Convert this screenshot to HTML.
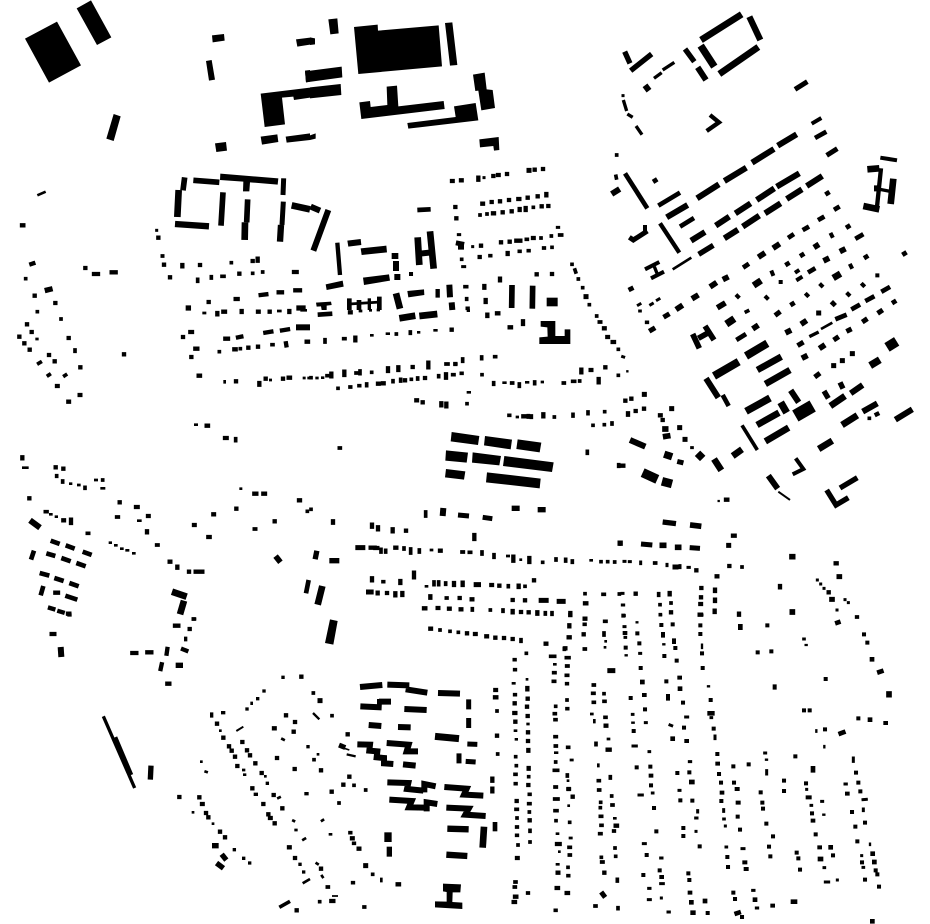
<!DOCTYPE html>
<html><head><meta charset="utf-8"><title>Figure-ground plan</title>
<style>
html,body{margin:0;padding:0;background:#fff}
svg{display:block}
path{fill:none;stroke:#000}
.q{stroke-linecap:square}
.f{fill:#000;stroke:none}
</style></head><body>
<svg xmlns="http://www.w3.org/2000/svg" width="930" height="924" viewBox="0 0 930 924">
<rect width="930" height="924" fill="#fff"/>

<!-- crop 1 -->
<g transform="translate(0 0) scale(.33333)">
<path class="f" d="M75 116L171 65 243 196 147 248ZM230 25L273 1 334 112 291 135ZM341 342L362 349 341 423 319 416ZM636 106L672 102 674 122 638 127ZM618 183L635 180 645 239 627 242ZM888 118L930 113V134L892 140ZM782 281L930 263V293L882 300 880 290 846 293 855 373 794 381ZM782 410L832 403 835 426 786 434ZM857 410L930 400V420L860 428ZM645 430L678 426 681 452 649 456ZM915 212L930 210V245L918 247ZM661 521L835 535 833 554 750 547 748 574 729 574 730 545 660 540Z"/>
<path stroke-width="17" d="M580 541L658 547M554 532L549 571M663 677L669 577M743 598L740 667"/>
<path stroke-width="20" d="M536 570L532 651M735 667L734 720M875 616L930 628"/>
<path stroke-width="19" d="M525 672L627 679M843 675L840 725"/>
<path stroke-width="15" d="M851 535L849 585M850 605L846 675"/>
<path stroke-width="8" d="M112 586L137 575"/>
<path class="q" stroke-width="9" d="M470 691h.1"/>
<path class="q" stroke-width="11" d="M487 768h1M694 788h.1M758 820h.1M788 816h.1M77 836h.1M634 830v4M593 838v6M666 829h6"/>
<path class="q" stroke-width="13" d="M66 676h4M94 792l6-2M104 887h.1M166 909h.1M475 713h.1M492 794h.1M510 832h.1M547 795v4M600 795h.1M718 821h.1M626 906h.1M707 897h6M758 783h.1M773 776v6M882 816h8M782 885l17-2M836 877h10M886 871h14M256 804h.1M282 822h12M335 817h12"/>
<path class="q" stroke-width="16" d="M142 870l8-2M565 924h.1M897 924h12"/>
</g>

<!-- crop 2 -->
<g transform="translate(310 0) scale(.33333)">
<path class="f" d="M132 81L203 74 204 92 386 76 396 199 145 222ZM405 69L427 67 442 195 420 197ZM55 58L82 55 86 100 61 103ZM-15 214L95 200 97 232-12 247ZM0 262L92 252 94 285 0 295ZM0 112L15 115V133L0 135ZM0 406L17 400V416L0 420ZM489 224L524 218 530 268 548 270 555 324 514 331 505 272 496 273ZM148 307L180 303 182 321 232 315 230 260 261 257 265 319 401 303 404 327 154 357ZM432 319L497 309 505 361 295 386 292 369 437 351ZM508 418L566 411 568 450 552 452 550 438 510 442ZM112 722L152 717 154 735 115 740ZM152 745L229 737 231 757 155 765ZM47 853L98 842 101 860 50 870ZM159 833L237 823 240 842 162 855ZM292 873L342 868 343 885 295 892ZM18 908L63 905 65 915 50 917V930H35L33 919 20 920ZM330 752L365 748V766L330 770Z"/>
<path stroke-width="17" d="M606 855L605 924M668 857L667 926"/>
<path stroke-width="26" d="M710 906h33"/>
<path stroke-width="14" d="M322 630L362 628M118 895V930M147 900V930M208 890V930"/>
<path stroke-width="10" d="M178 895V930"/>
<path stroke-width="8" d="M118 912L212 906"/>
<path stroke-width="20" d="M323 712L328 795M360 694L371 806M258 880L270 926"/>
<path stroke-width="13" d="M82 728L90 825M383 867V893"/>
<path stroke-width="18" d="M418 854L420 892M425 907L427 930M2 620L30 632M55 630L10 752M905 582L929 567"/>
<path class="q" stroke-width="9" d="M522 533h.1M488 740h.1M742 682h4M458 800h6M445 704h4"/>
<path class="q" stroke-width="11" d="M510 645h.1M531 642h.1M670 622h.1M649 718h3M455 778h.1M701 744h2M726 742h.1M724 708h.1M693 714h.1M749 705h6M655 752h2M540 767h2M628 754h2M465 860h5M472 925h2M470 896v2M786 793h.1M795 810l2 6M805 837h.1M818 863h.1M838 914h.1M920 465h.1M918 529l1 5"/>
<path class="q" stroke-width="13" d="M426 543h2M453 541h2M505 533v6M550 528h.1M564 525h2M591 522h.1M674 509h.1M699 507h.1M517 611h2M545 606h.1M570 604h.1M597 600h.1M625 597h3M653 593h.1M683 589h.1M709 582v4M549 640h3M578 637h.1M605 634h.1M629 627v3M647 624v6M695 619h.1M715 618h.1M436 621h.1M439 655h.1M513 737h.1M573 727h.1M599 725h.1M619 722h12M669 714h2M509 771h.1M593 759v3M680 823h.1M726 822h.1M570 836v5M523 858v5M527 900v6"/>
<path class="q" stroke-width="15" d="M657 511h.1M828 890h.1M445 730l10 2"/>
<path class="q" stroke-width="18" d="M254 768h2M258 792v12M262 831h.1M453 736v4"/>
<path class="q" stroke-width="12" d="M303 822h.1"/>
</g>

<!-- crop 3 -->
<g transform="translate(620 0) scale(.33333)">
<path stroke-width="20" d="M243 120L365 43M298 222L415 141"/>
<path stroke-width="19" d="M388 50L421 120"/>
<path stroke-width="22" d="M242 137L283 200"/>
<path stroke-width="18" d="M233 202L258 240M473 437L530 403M396 488L462 447M313 543L379 503M140 652L203 615M213 722L255 696M287 677L328 650M313 715L354 689M346 640L392 610M368 680L418 647M410 600L463 565M435 640L482 610M470 560L538 520M500 597L546 568M560 558L607 528M231 595L297 553"/>
<path stroke-width="16" d="M195 147L223 185M14 155L30 190M32 212L95 162M236 763L280 736"/>
<path stroke-width="15" d="M525 268L562 245M620 466L652 446M28 712L40 720 82 693"/>
<path stroke-width="14" d="M585 414L619 395M15 520L82 625M115 617L180 578M180 680L222 654"/>
<path stroke-width="13" d="M120 670L178 758M270 345L297 367 260 393M783 505L770 630"/>
<path stroke-width="12" d="M575 371L604 354M781 473L831 481M75 808L118 786M93 835L132 815M75 675V695"/>
<path stroke-width="10" d="M102 235L125 218M128 210L163 187M10 300L20 333M22 342L38 352M48 378L66 404M103 800L113 825M780 568L815 575"/>
<path stroke-width="8" d="M158 808L214 773"/>
<path stroke-width="20" d="M742 508L778 505M730 618L778 628M820 536L812 612"/>
<path stroke-width="18" d="M75 256L87 272M762 565H782"/>
<path class="q" stroke-width="9" d="M9 287h.1M112 900l5-3M92 914l5-3M55 915l5-3"/>
<path class="q" stroke-width="12" d="M636 708l-2-4M694 801l-2-4M458 822l-2-5M534 838l8-5M482 846h.1M530 815l3-2M772 826h.1M728 854l2 2M603 855l2 2M684 882l2 2M560 884l2 2M439 892l2 2M352 888l2 2"/>
<path class="q" stroke-width="14" d="M648 626l5-3M600 657l7-4M554 687l7-4M510 710l6-4M375 799l6-4M712 713l12-7M570 814l10-6M622 580l.8-.5M684 680l.8-.5M546 765l.8-.5M502 792l.8-.5M738 771l.8-.5M32 867l2-1M105 542l.8-.5M853 761l.8-.5M822 906l.8-.5M639 910l2 2M790 872l14-8M742 900l15-8M700 925l14-8M517 912l.8-.5"/>
<path class="q" stroke-width="17" d="M466 740l6-4M422 767l6-4M667 751l2-1M618 779l2-1M589 738l.8-.5M316 835l2-1M277 856l6-4M223 892l5-3M299 919l10-6M175 924l6-4"/>
<path class="q" stroke-width="20" d="M409 851l6-4M648 829l5-3"/>
</g>

<!-- crop 4 -->
<g transform="translate(0 310) scale(.33333)">
<path stroke-width="18" d="M90 631L120 653"/>
<path stroke-width="20" d="M516 845L560 860M552 872L540 913"/>
<path stroke-width="14" d="M926 810L918 850M102 722L93 749M152 692L179 702M197 706L224 716M248 725L275 735M139 730L166 738M184 744L212 754M229 759L257 769M119 789L148 797M163 804L191 813M208 819L236 829M130 828L122 856M196 857L232 869"/>
<path stroke-width="18" d="M888 52H930"/>
<path class="q" stroke-width="8" d="M110 87h2M151 613h3M168 620h2M235 525h3M286 510h4M586 344h4M611 9h4M835 3h6M330 698h2M346 706h3M364 716h3M380 721h4M400 730h3M722 536h1M305 535h7M211 521h2M166 472h2M70 473h12M415 632h6M912 204h1M926 204h1M811 210h1M674 214v3M905 1h12"/>
<path class="q" stroke-width="11" d="M112 5h.1M183 27h.1M116 160l5-3M145 196l3-2M194 197l3-2M136 605h.1M308 510h.1M658 125h.1M721 116h.1M816 104h3M188 513v3M170 497v2M255 532v3M225 120v4M350 621h5M262 670h4M470 705h4M141 605h.1M707 386v6M922 604h.1M763 657h4M580 927h2"/>
<path class="q" stroke-width="13" d="M81 43h.1M95 66h.1M58 80h.1M73 100h.1M89 119h.1M206 84h.1M147 135h.1M164 154h.1M241 172h.1M171 228h2M205 275h2M239 255h2M372 133h.1M549 81h.1M571 66h5M586 116h6M574 141h.1M596 197h4M652 9v4M670 5h5M725 3v3M774 5h2M809 5h.1M868 3v3M676 86h8M714 82l10-2M796 68l18-3M846 61l18-3M703 118h4M745 113h.1M774 110h.1M858 100l1 6M920 95h4M708 214h.1M778 219v5M797 206h.1M849 206h.1M866 203h4M67 442v3M167 472h.1M190 476h.1M88 565h.1M190 631h2M213 629v10M359 577h.1M408 591h5M444 618h2M441 664v3M509 755h2M532 770v3M567 785h.1M587 785h20M763 551h6M790 551h5M897 571h3M640 613h2M709 596h.1M582 645h2M625 681h4M824 634h.1M620 347h4M675 384h5M166 848h8M150 894l10 3M178 904l10 3M204 911h4"/>
<path class="q" stroke-width="17" d="M832 745l4 5"/>
</g>

<!-- crop 5 -->
<g transform="translate(310 310) scale(.33333)">
<path class="f" d="M692 33H736V78H764V58H781V102H688V82L713 80 712 52 692 50ZM425 366L508 378 504 405 422 394ZM525 378L606 389 602 418 522 406ZM623 388L694 398 689 427 619 417ZM408 421L474 428 470 458 406 452ZM488 427L573 438 568 466 486 458ZM583 438L731 457 726 486 579 468ZM408 477L466 484 462 509 405 502ZM531 487L692 506 689 535 528 517Z"/>
<path stroke-width="14" d="M23 14L67 11"/>
<path stroke-width="20" d="M268 25L316 17M328 18L382 12M37 828L23 884"/>
<path stroke-width="18" d="M400 594L398 618"/>
<path class="q" stroke-width="8" d="M150 3h3M181 1h1M474 2h2M184 76h3M231 71h5M376 61h2M325 67h2M37 203h2M20 204h2M374 61h5M434 162h5M474 247h5M581 218h5M649 217h5M696 216h2M621 321h2M363 720h3M592 738h4M204 0h2M348 829h3M842 751h3M632 749h.5"/>
<path class="q" stroke-width="11" d="M860 18h.1M868 36h4M925 118h.1M45 89v7M101 86h4M259 72h.1M301 66v4M408 162h6M515 141v5M554 140h3M458 147v7M185 187h.1M150 183v8M138 189h2M51 197h3M3 203h.1M84 235h.1M120 231h2M147 227h2M170 222v5M249 212v3M272 208v5M304 208h.1M323 204v3M386 197v3M428 194h4M454 190h2M516 194h.1M471 281h.1M551 218v5M605 219h3M628 222v7M674 216v5M760 219h3M788 214h6M809 213h.1M925 196h.1M597 316h2M733 321h.1M655 317v4M664 318v4M789 313v5M834 306v5M884 305h.1M849 346h.1M883 344h.1M906 339v3M832 424v6M88 414h3M926 464v5M347 606v12M3 598h.1M928 697v5M328 720v6M302 717v12M227 721v5M213 718v8M282 714v3M456 726h4M478 727h4M516 726v6M552 734v8M698 757h.1M738 747v3M767 748v5M787 753v4M873 755h.1M893 755h.1M914 756h.1M372 816v8M386 816v8M407 819v4M595 827v3M645 829h.1M219 815h2M409 864h2M825 851h.1M879 853h4M541 900h.1M579 900v4M706 908v4M726 908v5M487 896v4M928 852h.1"/>
<path class="q" stroke-width="13" d="M120 7h2M532 14v4M561 10h4M599 52h4M639 34v8M882 55h2M892 81h2M908 96h4M425 59h.1M136 83v8M308 171h.1M265 172v8M234 175v8M103 185v10M64 191v8M355 158v14M436 162h.1M204 221h2M219 220h2M285 211h.1M345 204h.1M408 193v10M319 271h2M338 277h.1M394 280v6M409 281v8M814 179v8M842 180h2M886 172h.1M866 207v10M700 313v6M651 319h.1M640 319h.1M69 634v4M186 644v6M204 652v6M248 658v6M288 662h.1M493 675v12M182 713h12M196 714h6M256 713h3M390 722h2M610 740v12M658 744v12M186 805v6M271 813v6M312 788v14M432 819v6M458 818v7M544 825h2M568 827h.1M626 827v4M672 811h.1M203 848v2M231 849h.1M256 850v6M277 849v6M361 859v4M449 864h.1M485 868h2M608 870h.1M645 871h.1M342 895h4M383 894h2M417 896h2M452 898h2M608 903v4M633 906h.1M656 907h.1M682 907v4M781 909v6M825 880h4M824 926h2"/>
<path stroke-width="15" d="M136 713h30M444 615L477 618M518 622L547 626M686 871h30M740 874h27M491 824h22M168 846h23"/>
<path class="q" stroke-width="16" d="M613 595h8M691 599h8M19 730l-2 10M66 752h14"/>
</g>

<!-- crop 6 -->
<g transform="translate(620 310) scale(.33333)">
<path stroke-width="24" d="M378 138L442 100M282 198L356 155"/>
<path stroke-width="20" d="M412 180L484 140M436 222L510 180M411 345L477 308M436 394L506 353M631 288L675 258M666 345L712 316M596 417L637 392M338 438L366 418M282 447L304 481"/>
<path stroke-width="22" d="M378 304L450 264M482 277L500 308"/>
<path stroke-width="38" d="M526 318L578 288"/>
<path stroke-width="30" d="M801 112L830 94"/>
<path stroke-width="18" d="M258 205L295 263M512 241L536 277M692 250L728 225M728 305L772 280M826 329L877 298M445 497L473 536M30 390L76 410"/>
<path stroke-width="17" d="M218 72L238 115M255 48L282 90M235 85L262 70"/>
<path stroke-width="14" d="M308 255L326 288"/>
<path stroke-width="16" d="M612 243L625 265M660 217L669 236M712 503L660 534M620 540L648 585 685 563"/>
<path stroke-width="14" d="M349 90L378 72"/>
<path stroke-width="14" d="M646 28L680 14"/>
<path stroke-width="8" d="M603 57L637 38"/>
<path stroke-width="11" d="M366 346L412 420"/>
<path stroke-width="12" d="M527 445L550 477 518 493"/>
<path stroke-width="6" d="M475 545L510 570"/>
<path stroke-width="28" d="M68 488L112 508"/>
<path stroke-width="16" d="M128 636L168 641"/>
<path stroke-width="17" d="M210 645L244 649"/>
<path stroke-width="15" d="M63 702L97 705M209 713L240 715"/>
<path stroke-width="10" d="M568 80L596 66"/>
<path stroke-width="26" d="M126 514L156 522"/>
<path class="q" stroke-width="7" d="M22 184h.1M296 573h.1"/>
<path class="q" stroke-width="9" d="M8 140l3 1M12 754h3M28 755h3M62 756v5M141 763v4M180 767v6M204 772h4M7 885h4M9 917h4M6 850h3M215 413h2M592 810h.1M602 822h.1M612 835h.1M651 900h.1M675 869h.1M685 878h.1M59 3h2"/>
<path class="q" stroke-width="11" d="M80 37h2M379 5l4-2M748 325h.1M104 759h3M120 884h.1M121 914h.1M153 879h.1M116 851v5M3 697v5M366 771h.1M710 921h2"/>
<path class="q" stroke-width="13" d="M16 272h.1M34 266h.1M24 310v4M47 303h.1M72 296h.1M120 316h2M128 330h.1M7 467h3M318 569h4M339 677h5M229 781h.1M328 768h.1M290 799h2M244 834h.1M285 839v4M243 862h.1M285 869v4M241 882h2M357 911v3M47 851h.1M149 849v4M153 907h.1M480 828v4M626 847h.1M770 313l2-1M647 760h3M239 914h4M284 902v4"/>
<path class="q" stroke-width="15" d="M137 18l5-3M94 60l5-3M471 12l4-3M155 296h.1M179 353h.1M195 388h.1M73 253h.1M596 9h.1M686 61l2-1M733 32l3-2M779 6l3-2M647 86l3-2M697 131h.1M667 152h.1M641 167h.1M590 197l4-3M539 103l5-3M179 456l4 1M326 706h.1M165 771h3M635 868h2M657 800h2"/>
<path class="q" stroke-width="17" d="M405 52l3-2M504 65l2-1M550 38l3-2M605 111l3-2M127 706h4M173 712h3M135 357h2M137 379l6-1M553 141l2-1M516 740h2M517 906h.1"/>
<path class="q" stroke-width="22" d="M328 36l6-4M240 438l.7-.7M143 436l3 1M760 161l10-6"/>
</g>

<!-- crop 7 -->
<g transform="translate(0 614) scale(.33333)">
<path stroke-width="10" d="M310 307L404 522"/>
<path stroke-width="14" d="M345 370L393 483"/>
<path stroke-width="16" d="M453 455L451 497"/>
<path stroke-width="18" d="M182 99L184 129"/>
<path stroke-width="6" d="M709 351L730 338"/>
<path stroke-width="8" d="M908 808L930 795"/>
<path stroke-width="11" d="M838 880L870 862"/>
<path class="q" stroke-width="8" d="M661 350h.1M755 267v2M796 487h.1M639 629h.1M730 468h2M733 482h2M835 552l4-2M910 677l5-3M617 473l3 1M847 375l4 2M604 443h.1M579 595h.1M880 620l2 1M887 648h2"/>
<path class="q" stroke-width="10" d="M207 3h3M635 300v6M668 296h3M581 15h3M557 73v4M802 508h.1M766 541h3M749 747h.1M703 707h.1M731 733h.1M849 190h.1M792 231h.1M773 254h.1M741 285h.1M900 751h.1M911 774h.1M918 539h3M924 398h.1"/>
<path class="q" stroke-width="13" d="M155 60h8M397 117h12M442 115h12M502 105l-2 14M549 106l10 4M485 151l-3 14M502 209h6M525 35h10M569 45h.1M651 329h.1M670 371h.1M727 384h.1M687 397h.1M695 410h.1M705 428h.1M712 456h.1M741 409h.1M750 424h.1M766 448h.1M785 477h.1M757 523h.1M790 570h.1M821 543h.1M847 583h.1M805 601h.1M810 612h2M824 628h.1M858 304h.1M885 324h.1M822 343h2M881 353h.1M831 432h.1M884 465h.1M867 700h2M885 732h.1M890 889h.1M538 549h.1M598 550h.1M606 570h2M618 597h.1M625 610h.1M660 653h.1M675 670h.1M904 188h.1"/>
<path class="q" stroke-width="16" d="M535 154h6M644 695h4M670 727l4 5M656 752l8 6"/>
</g>

<!-- crop 8 -->
<g transform="translate(310 614) scale(.33333)">
<path class="f" d="M60 16L83 21 70 92 45 87ZM399 809L453 811 451 835 428 835 427 864 457 866 457 885 375 880 375 862 410 863 410 834 399 832Z"/>
<path stroke-width="18" d="M150 219L217 213M232 212L298 214M151 277L215 280M207 263H243M283 285L350 288M287 226L352 236M176 333L214 336M142 391L180 392 178 410 202 412 200 430 222 432 222 448 250 450M230 387L296 392 290 412 324 412M279 451L317 455M232 505L295 507 291 525 340 530M343 535V510L377 517M403 519L470 524 462 542 520 545M238 557L305 561 297 580 345 581M350 592V565L382 570M409 581L476 584 466 602 527 606"/>
<path stroke-width="15" d="M476 256V286M476 312V342M447 418V448M472 390L502 391M467 442L497 444M892 170H916"/>
<path stroke-width="12" d="M207 255V287"/>
<path stroke-width="18" d="M264 339L302 340M384 237L450 239"/>
<path stroke-width="21" d="M375 367L447 374"/>
<path stroke-width="19" d="M412 644L476 646M409 722L472 726"/>
<path stroke-width="20" d="M522 638L518 701"/>
<path stroke-width="22" d="M234 655V684"/>
<path stroke-width="16" d="M238 698V728"/>
<path stroke-width="14" d="M555 624V652"/>
<path stroke-width="7" d="M9 297L28 316M110 421L137 427"/>
<path stroke-width="5" d="M100 402L118 408M66 846H84"/>
<path class="q" stroke-width="8" d="M609 208h4M651 196h.1M733 151h3M653 330h2M615 350h3M618 376h2M736 416h5M783 438h4M774 500h.1M776 575h.1M741 659h3M748 713h.1M780 672h4M741 751h4M894 375h3M913 613h3M844 300h3M853 319v5M865 452v4M887 82h.1M885 100h.1M823 15h3M36 620l3-2M60 661h3M20 748l3 2M36 786l2 3M214 795v6M24 421h.1"/>
<path class="q" stroke-width="11" d="M390 48h.1M420 52h.1M445 55h.1M633 77v5M613 137h2M614 167h2M649 118h.1M722 127h12M769 131h8M770 156h4M731 176h4M769 184h4M730 202h4M770 209h2M771 258h.1M771 284h2M614 242h2M617 428h.1M619 455h.1M615 481h3M616 509h2M656 488h.1M658 541h2M618 586h4M656 569h4M658 594h.1M621 612h.1M620 639h2M620 664h2M660 649v3M660 684h.1M624 693h.1M737 277h.1M733 299h3M735 317h3M735 368h4M736 396h3M737 444h.1M733 469h10M735 519h4M734 555h10M735 590h6M738 620h.1M773 400h3M772 483v3M774 525h4M779 625h.1M777 700h4M778 723h3M774 760h.1M774 785h2M823 31h2M823 105h3M884 22h4M882 57v6M763 103v3M850 213h3M848 238h4M850 265h3M882 239h.1M882 262h3M885 310h3M858 388v4M865 500h3M901 488v4M866 528h3M905 546h.1M872 565h.1M871 581h.1M906 573h3M871 607h4M873 634h3M911 651h2M869 659h4M915 702h.1M917 727h.1M874 730h.1M875 744h4M922 796v5M855 876h3M924 881v3M615 804h3M613 819h3M653 837h2M736 889h2M10 237h.1M66 305h.1M132 514h.1M167 528h.1M12 437h.1M87 567h.1M120 656h2M131 688h2M52 819h3M128 806h2M29 863h.1M188 781h.1M162 879h2M561 291h.1M563 420h.1"/>
<path class="q" stroke-width="13" d="M361 44h2M471 58h.1M495 60h2M529 67h2M556 71h.1M582 72h.1M608 75h.1M781 3h.1M778 34v3M776 70h3M821 61h.1M707 89h2M766 103h.1M652 222v4M614 268h.1M653 254h.1M651 278h.1M613 297h3M653 306h.1M616 323h.1M654 355h.1M654 381h.1M655 408v2M656 462v2M655 513h.1M620 561h.1M659 619h.1M621 732h2M556 228h2M555 250h4M561 365h.1M547 494v6M547 524v8M788 548h.1M741 690h8M776 525h.1M743 776h2M740 822h4M770 837h4M887 335h2M893 407h6M917 635h4M883 776h.1M113 361h.1M33 469h.1M118 488h.1M100 512h.1M65 533h.1M126 673h2M146 704h2M33 764h.1M64 861h6M615 848h4M611 864h4M263 811h4"/>
<path class="q" stroke-width="15" d="M878 840l3 4M30 260h.1M94 396l5 2M167 755h.1"/>
</g>

<!-- crop 9 -->
<g transform="translate(620 614) scale(.33333)">
<path class="q" stroke-width="7" d="M50 25h2M121 3h2M37 326h4M557 93h3M589 349v4M613 396v4M610 602h3M130 91h3M17 124h3M750 689v4M246 92v10M438 437h3M264 217h3"/>
<path class="q" stroke-width="9" d="M12 38h3M240 3h6M15 70h2M59 118h3M150 333l5 2M76 326h3M273 311h2M197 309h6M37 301h2M87 413h2M434 417h3M208 443h4M227 612h4M316 636h.1M228 652h.1M675 510h4M605 562h3M729 557l10-1M573 574h2M70 689h6M318 699h2M122 732h4M366 704h6M612 761h2M725 725h.1M729 760h2M616 804h10M652 798h.1M122 809h8M86 823h4M398 829h4M85 857h6M124 852h.1M409 882h4M144 894h4M39 396h10M177 529h3M311 615h2M551 75h2M57 543h10M97 537h2M700 432v10M285 366v8M233 590v4M440 470v10M311 587v5M730 585v5M560 526h.1"/>
<path class="q" stroke-width="12" d="M10 5h.1M14 57h2M52 58h.1M58 88h.1M17 101h.1M124 33h.1M129 60v5M158 31h.1M162 79v5M166 102h.1M133 126h.1M241 34h.1M241 60h.1M248 162h.1M413 115h.1M732 61h.1M742 86h.1M62 162h.1M139 202h.1M178 191h2M72 243h2M32 252h.1M189 266h.1M272 258h.1M75 286h.1M41 351h.1M192 341h.1M281 344h.1M199 381h2M292 420h.1M292 449h2M50 460h.1M92 485h2M303 506h.1M342 506h.1M93 514h.1M350 525h3M558 508h.1M715 506h.1M721 532h.1M305 536h2M181 559h.1M217 560h.1M304 561h.1M427 566h.1M429 584h.1M696 594h.1M102 582h.1M576 598h.1M578 620h2M735 626h.1M439 629h.1M706 638h.1M190 642h.1M360 647h.1M109 652h.1M190 666h.1M459 667h.1M587 661h.1M712 682h.1M239 697h.1M447 698h.1M598 700h2M530 716h.1M80 723h.1M322 729h.1M451 727h.1M639 724h.1M535 733h.1M726 745h.1M373 745h3M324 759h.1M377 765h3M119 769h.1M540 767h.1M767 769h.1M205 778h.1M70 783h.1M124 789h2M772 781h.1M208 798h.1M735 797h.1M777 818h.1M209 836h2M340 836h.1M345 855h.1M457 875h2M263 897h.1M366 909h.1M492 500h.1M708 476h.1M340 457h.1M386 451h.1M172 477h.1M208 475h.1M297 480h.1M91 458h.1M552 289h.1M569 289h.1M715 313h.1M796 327h2M615 346h.1M526 427h.1M617 195h.1M454 112h.1M442 34h.1M246 118h.1M170 140h.1M144 246v8M464 217v4M681 539h2M353 608h.1M563 550h6M492 531h.1M422 535h.1M353 566h3"/>
<path class="q" stroke-width="14" d="M652 26l3-1M361 37v4M67 204h.1M180 224h.1M158 374h.1M214 504h3M750 317h.1M662 358l8-3M579 463v6M600 735h3M632 700h.1M758 719h.1M763 744h.1M214 865h.1M255 861h.1M405 857h.1M218 896h2M350 898l6-2M519 863h6M756 136h.1M778 174l6-2M269 298h8M757 922h.1"/>
<path class="q" stroke-width="17" d="M807 240v2"/>
</g>
</svg>
</body></html>
